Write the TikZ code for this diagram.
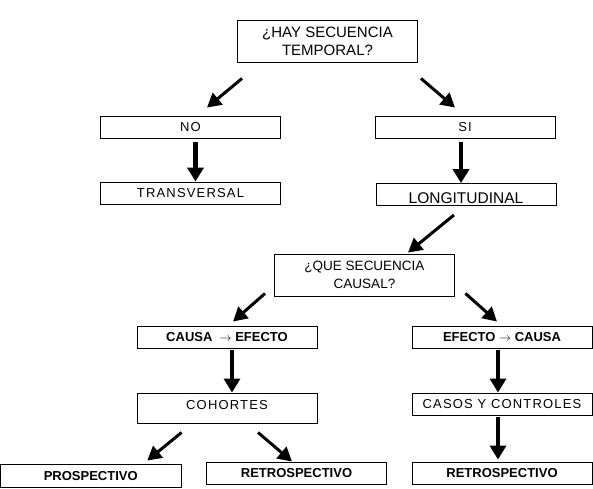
\documentclass[tikz,border=0pt]{standalone}
\usepackage{fontspec}
\setmainfont{Liberation Sans}
\newfontfamily\spacedfont[LetterSpace=9]{Liberation Sans}
\usetikzlibrary{arrows.meta}
\begin{document}
\begin{tikzpicture}[x=1pt,y=-1pt,
	box/.style={draw,line width=0.9pt,minimum width=180pt,minimum height=22pt,inner sep=0pt,align=center,font=\fontsize{13}{18}\spacedfont},
	boldbox/.style={box,font=\fontsize{13}{16}\selectfont\bfseries},
	arr/.style={-{Triangle[length=14pt,width=15pt]},line width=3pt},
	varr/.style={-{Triangle[length=14pt,width=16pt]},line width=4.5pt}]
			\useasboundingbox (0,0) rectangle (593,488);
			\node [box,minimum height=42pt,font=\fontsize{15}{18}\selectfont] (Q1) at (327.5,41) {¿HAY SECUENCIA\\TEMPORAL?};
			\node [box] (NO) at (190.5,127.5) {NO};
			\node [box] (SI) at (465,127.5) {SI};
			\node [box] (TR) at (190.5,193) {TRANSVERSAL};
			\node [box,font=\fontsize{15.5}{18}\selectfont,text height=17pt,text depth=0pt] (LO) at (466,194.5) {LONGITUDINAL};
			\node [box,minimum height=42pt,font=\fontsize{13.5}{18}\selectfont] (Q2) at (364.5,275) {¿QUE SECUENCIA\\CAUSAL?};
			\node [boldbox] (CE) at (227,337) {CAUSA\ \ $\rightarrow$ EFECTO};
			\node [boldbox] (EC) at (502,337) {EFECTO $\rightarrow$ CAUSA};
			\node [box,minimum height=30pt,text depth=7pt] (CO) at (227,408) {COHORTES};
			\node [box] (CC) at (502,404) {CASOS Y CONTROLES};
			\node [boldbox,minimum width=180.5pt,minimum height=23.5pt] (PR) at (90.75,475.75) {PROSPECTIVO};
			\node [boldbox] (RE1) at (296.5,473) {RETROSPECTIVO};
			\node [boldbox] (RE2) at (502,473) {RETROSPECTIVO};
			
			\draw [arr] ([shift={(5,16)}]Q1.south west) -- ([shift={(16.5,-8.5)}]NO.north);
			\draw [arr] ([shift={(3,16)}]Q1.south east) -- ([shift={(-10,-8.5)}]SI.north);
			\draw [varr] ([shift={(5,3)}]NO.south) -- ([xshift=5]TR.north);
			\draw [varr] ([shift={(-4,3)}]SI.south) -- ([xshift=-5]LO.north);
			\draw [arr] ([shift={(-12,9)}]LO.south) -- ([shift={(43.5,-1)}]Q2.north);
			\draw [arr] ([shift={(-9,-3)}]Q2.south west) -- ([shift={(6,-4)}]CE.north);
			\draw [arr] ([shift={(10.5,-3)}]Q2.south east) -- ([shift={(-5,-4)}]EC.north);
			\draw [varr] ([shift={(5,2)}]CE.south) -- ([xshift=5]CO.north);
			\draw [varr] ([shift={(-4,2)}]EC.south) -- ([xshift=-4]CC.north);
			\draw [varr] ([shift={(-4,2)}]CC.south) -- ([shift={(-4,-2)}]RE2.north);
			\draw [arr] ([shift={(45,9)}]CO.south west) -- ([shift={(56.5,-3)}]PR.north);
			\draw [arr] ([shift={(31,9)}]CO.south) -- ([shift={(-4.5,0)}]RE1.north);
		\end{tikzpicture}
\end{document}
